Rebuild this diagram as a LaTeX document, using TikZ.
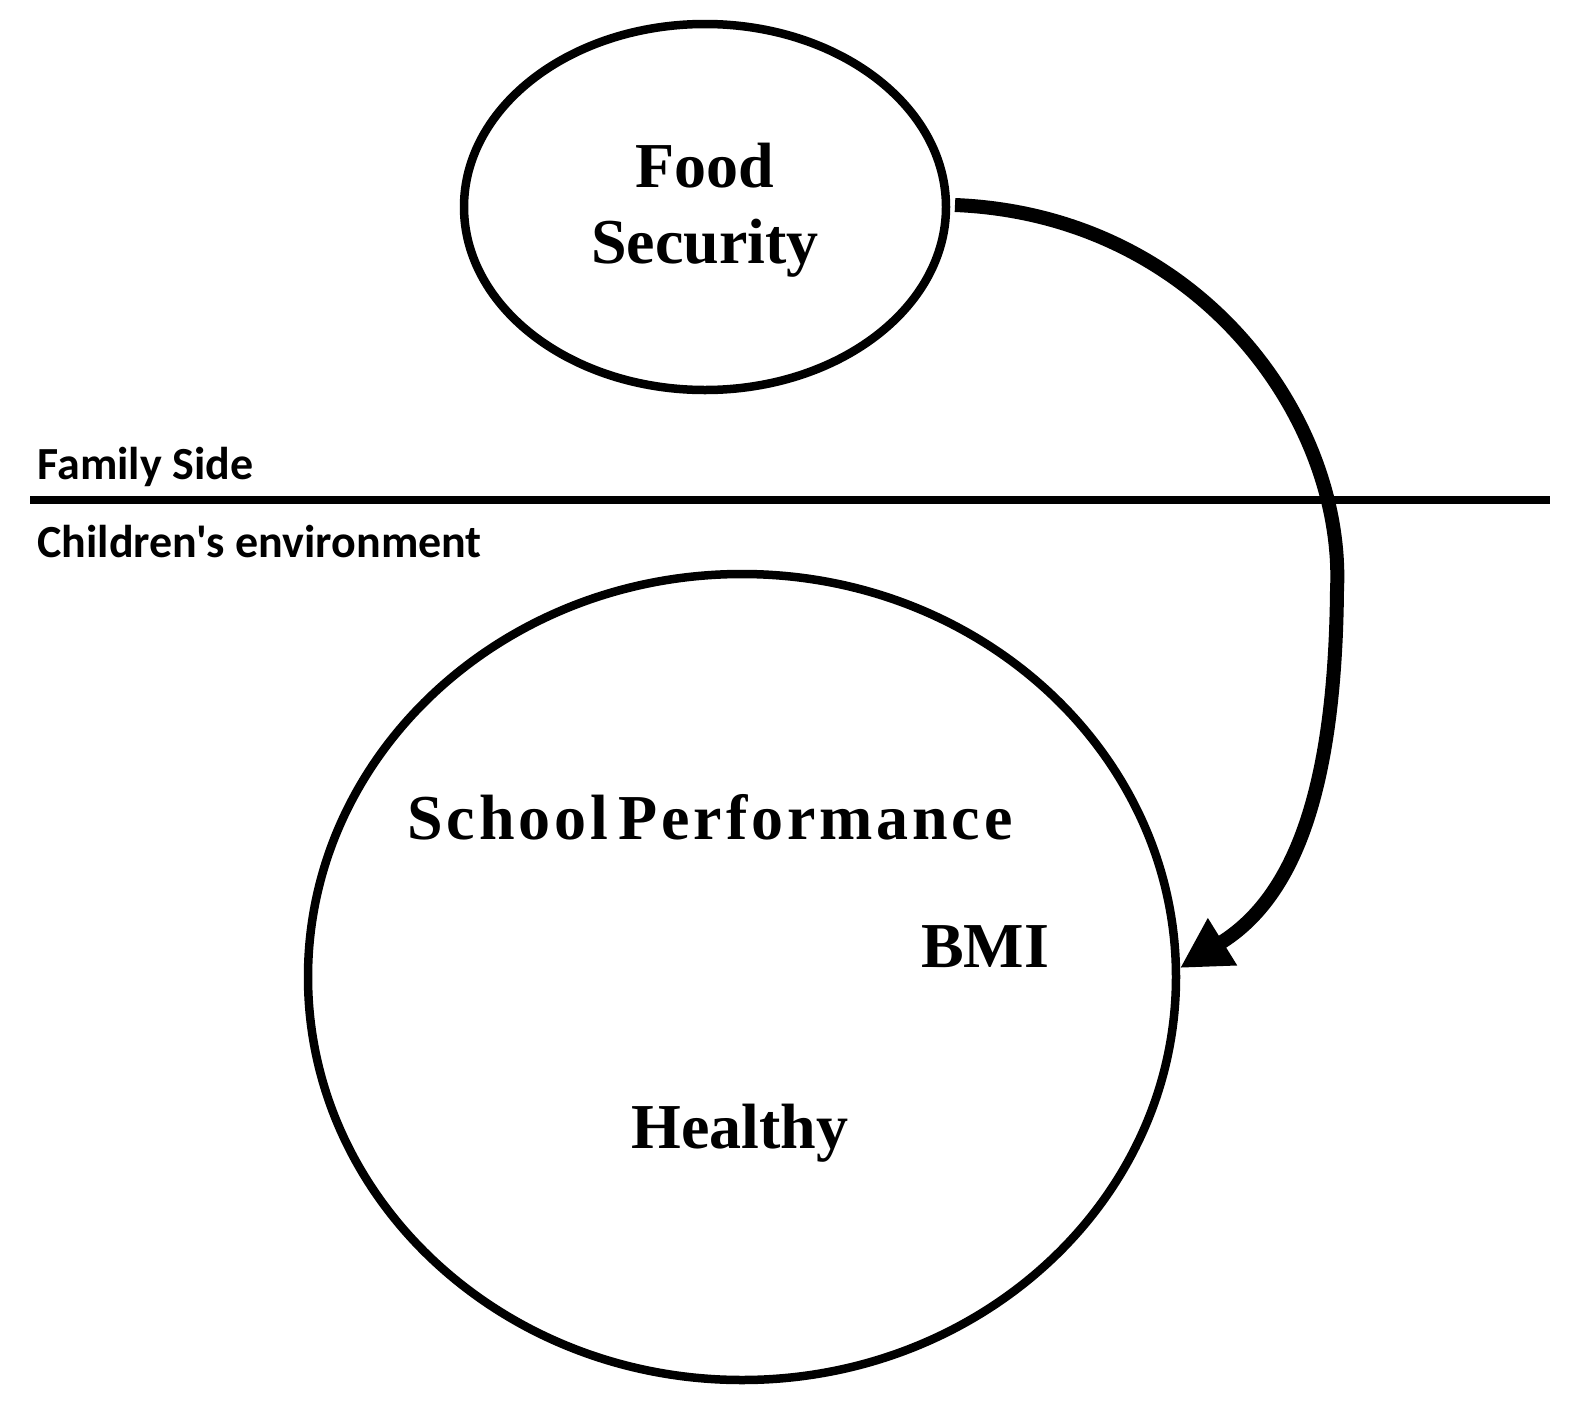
\documentclass[tikz,border=0pt]{standalone}
\usepackage{fontspec}
\setmainfont{Liberation Serif}
\newfontfamily\sidefont{Carlito}
\usetikzlibrary{arrows.meta}
\begin{document}
\begin{tikzpicture}[x=1pt,y=-1pt,
  shp/.style={draw,line width=8.5pt},
  lbl/.style={font=\fontsize{64}{76}\selectfont\bfseries,align=center},
  side/.style={font=\sidefont\fontsize{46}{52}\selectfont\bfseries,anchor=west}]
\useasboundingbox (0,0) rectangle (1580,1419);
\draw[shp] (705,207) ellipse [x radius=241,y radius=183];
\draw[shp] (742,977) ellipse [x radius=434,y radius=403];
\coordinate (l1) at (30,500); \coordinate (l2) at (1550,500);
\draw[line width=8pt] (l1) -- (l2);
\node[side] (fam) at (34,467) {Family Side};
\node[side] (chi) at (34,542) {Children's environment};
\node[lbl] (fs) at (705,210) {Food\\Security};
\node[lbl] (sp) at (710,817) {\addfontfeature{LetterSpace=6}School\,Performance};
\node[lbl] (bmi) at (985,947) {BMI};
\node[lbl] (hl) at (740,1133) {Healthy};
\coordinate (s) at (955,205);
\coordinate (m) at (1337,590);
\coordinate (e) at (1180,968);
\draw[line width=14pt,-{Triangle[length=50pt,width=52pt]}] (s) .. controls (1200,215) and (1345,420) .. (m) .. controls (1335,800) and (1290,900) .. (e);
\end{tikzpicture}
\end{document}
